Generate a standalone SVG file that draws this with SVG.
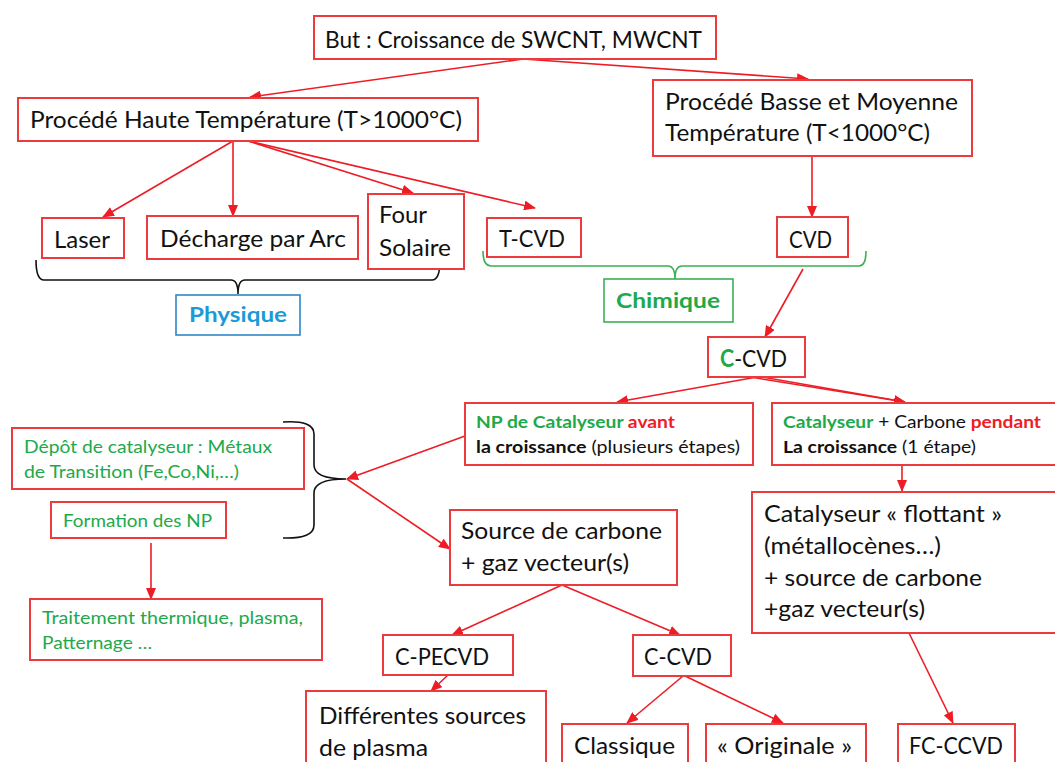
<svg xmlns="http://www.w3.org/2000/svg" width="1055" height="762" viewBox="0 0 1055 762">
<defs>
<marker id="ah" markerWidth="12" markerHeight="10" refX="11" refY="5" orient="auto" markerUnits="userSpaceOnUse">
<path d="M0,0 L12,5 L0,10 Z" fill="#EE1C25"/>
</marker>
<style>
.b{fill:#fff;stroke:#EC3B3E;stroke-width:2}
.t{font-family:Lato,"Liberation Sans",sans-serif;fill:#111}
.L{font-size:24px}
.S{font-size:17.5px}
.g{fill:#21A949}
.r{fill:#EE1C25}
.bo{font-weight:bold}
.c{stroke:#EE1C25;stroke-width:1.6;fill:none;marker-end:url(#ah)}
.br{fill:none;stroke:#111;stroke-width:1.6}
</style>
</defs>
<rect width="1055" height="762" fill="#fff"/>

<g id="connectors">
<line class="c" x1="523" y1="59" x2="250" y2="97"/>
<line class="c" x1="523" y1="59" x2="808" y2="79"/>
<line class="c" x1="233" y1="141" x2="103" y2="217"/>
<line class="c" x1="233" y1="141" x2="233" y2="216"/>
<line class="c" x1="248" y1="141" x2="413" y2="193"/>
<line class="c" x1="248" y1="141" x2="535" y2="208"/>
<line class="c" x1="812" y1="156" x2="812" y2="217"/>
<line class="c" x1="803" y1="269" x2="765" y2="337"/>
<line class="c" x1="757" y1="377" x2="617" y2="402"/>
<line class="c" x1="750" y1="377" x2="905" y2="402"/>
<line class="c" x1="762" y1="377" x2="905" y2="402"/>
<line class="c" x1="465" y1="436" x2="347" y2="479"/>
<line class="c" x1="347" y1="479" x2="450" y2="549"/>
<line class="c" x1="151" y1="543" x2="151" y2="599"/>
<line class="c" x1="902" y1="465" x2="902" y2="491"/>
<line class="c" x1="562" y1="585" x2="452" y2="635"/>
<line class="c" x1="562" y1="585" x2="680" y2="635"/>
<line class="c" x1="448" y1="675" x2="431" y2="691"/>
<line class="c" x1="683" y1="676" x2="627" y2="723"/>
<line class="c" x1="685" y1="676" x2="783" y2="723"/>
<line class="c" x1="909" y1="633" x2="953" y2="723"/>
</g>

<g id="braces">
<path class="br" d="M36,260 Q36,280 44,280 L231,280 Q238,280 238,294 Q238,280 245,280 L432,280 Q440,280 440,260"/>
<path d="M483,251 Q483,266 491,266 L668,266 Q675,266 675,279 Q675,266 682,266 L859,266 Q866,266 866,251" fill="none" stroke="#3CB054" stroke-width="1.6"/>
<path class="br" d="M283,422 Q314,420 314,434 L314,465 Q314,479 346,479 Q314,479 314,493 L314,525 Q314,539 283,538"/>
</g>

<g id="n-but"><rect class="b" x="314" y="16" width="402" height="43"/>
<text class="t L" x="325" y="48" textLength="377" lengthAdjust="spacingAndGlyphs">But : Croissance de SWCNT, MWCNT</text></g>

<g id="n-haute"><rect class="b" x="18" y="98" width="460" height="43"/>
<text class="t L" x="30" y="128" textLength="432" lengthAdjust="spacingAndGlyphs">Procédé Haute Température (T&gt;1000°C)</text></g>

<g id="n-basse"><rect class="b" x="653" y="80" width="319" height="76"/>
<text class="t L" x="665" y="110" textLength="293" lengthAdjust="spacingAndGlyphs">Procédé Basse et Moyenne</text>
<text class="t L" x="665" y="141" textLength="265" lengthAdjust="spacingAndGlyphs">Température (T&lt;1000°C)</text></g>

<g id="n-laser"><rect class="b" x="42" y="218" width="82" height="40"/>
<text class="t L" x="54" y="248" textLength="56" lengthAdjust="spacingAndGlyphs">Laser</text></g>

<g id="n-arc"><rect class="b" x="147" y="216" width="211" height="43"/>
<text class="t L" x="160" y="247" textLength="186" lengthAdjust="spacingAndGlyphs">Décharge par Arc</text></g>

<g id="n-four"><rect class="b" x="368" y="194" width="96" height="75"/>
<text class="t L" x="379" y="223" textLength="48" lengthAdjust="spacingAndGlyphs">Four</text>
<text class="t L" x="379" y="256" textLength="72" lengthAdjust="spacingAndGlyphs">Solaire</text></g>

<g id="n-tcvd"><rect class="b" x="487" y="218" width="94" height="39"/>
<text class="t L" x="499" y="247" textLength="66" lengthAdjust="spacingAndGlyphs">T-CVD</text></g>

<g id="n-cvd"><rect class="b" x="777" y="217" width="71" height="40"/>
<text class="t L" x="789" y="248" textLength="43" lengthAdjust="spacingAndGlyphs">CVD</text></g>

<g id="n-physique"><rect x="176" y="295" width="124" height="40" fill="#fff" stroke="#2E86C8" stroke-width="1.6"/>
<text class="t bo" x="238" y="322" text-anchor="middle" font-size="21" style="fill:#1C9AD6" textLength="98" lengthAdjust="spacingAndGlyphs">Physique</text></g>

<g id="n-chimique"><rect x="604" y="279" width="129" height="43" fill="#fff" stroke="#3CB054" stroke-width="1.6"/>
<text class="t bo g" x="668" y="308" text-anchor="middle" font-size="21" textLength="104" lengthAdjust="spacingAndGlyphs">Chimique</text></g>

<g id="n-ccvd"><rect class="b" x="708" y="337" width="97" height="40"/>
<text class="t L" x="720" y="367" textLength="67" lengthAdjust="spacingAndGlyphs"><tspan class="g bo">C</tspan>-CVD</text></g>

<g id="n-np"><rect class="b" x="465" y="403" width="288" height="62"/>
<text class="t S bo" x="476" y="428" textLength="199" lengthAdjust="spacingAndGlyphs"><tspan class="g">NP de Catalyseur </tspan><tspan class="r">avant</tspan></text>
<text class="t S" x="476" y="453" textLength="264" lengthAdjust="spacingAndGlyphs"><tspan class="bo">la croissance</tspan> (plusieurs étapes)</text></g>

<g id="n-cat"><rect class="b" x="772" y="403" width="290" height="62"/>
<text class="t S" x="783" y="428" textLength="258" lengthAdjust="spacingAndGlyphs"><tspan class="g bo">Catalyseur</tspan> + Carbone <tspan class="r bo">pendant</tspan></text>
<text class="t S" x="783" y="453" textLength="193" lengthAdjust="spacingAndGlyphs"><tspan class="bo">La croissance</tspan> (1 étape)</text></g>

<g id="n-depot"><rect class="b" x="12" y="428" width="292" height="61"/>
<text class="t S g" x="24" y="453" textLength="248" lengthAdjust="spacingAndGlyphs">Dépôt de catalyseur : Métaux</text>
<text class="t S g" x="24" y="478" textLength="215" lengthAdjust="spacingAndGlyphs">de Transition (Fe,Co,Ni,…)</text></g>

<g id="n-formation"><rect class="b" x="51" y="502" width="175" height="36"/>
<text class="t S g" x="63" y="527" textLength="149" lengthAdjust="spacingAndGlyphs">Formation des NP</text></g>

<g id="n-traitement"><rect class="b" x="30" y="599" width="292" height="61"/>
<text class="t S g" x="42" y="624" textLength="261" lengthAdjust="spacingAndGlyphs">Traitement thermique, plasma,</text>
<text class="t S g" x="42" y="649" textLength="110" lengthAdjust="spacingAndGlyphs">Patternage …</text></g>

<g id="n-source"><rect class="b" x="450" y="510" width="227" height="75"/>
<text class="t L" x="461" y="539" textLength="201" lengthAdjust="spacingAndGlyphs">Source de carbone</text>
<text class="t L" x="461" y="571" textLength="168" lengthAdjust="spacingAndGlyphs">+ gaz vecteur(s)</text></g>

<g id="n-flottant"><rect class="b" x="752" y="492" width="310" height="141"/>
<text class="t L" x="764" y="522" textLength="238" lengthAdjust="spacingAndGlyphs">Catalyseur « flottant »</text>
<text class="t L" x="764" y="554" textLength="177" lengthAdjust="spacingAndGlyphs">(métallocènes…)</text>
<text class="t L" x="764" y="586" textLength="218" lengthAdjust="spacingAndGlyphs">+ source de carbone</text>
<text class="t L" x="764" y="617" textLength="161" lengthAdjust="spacingAndGlyphs">+gaz vecteur(s)</text></g>

<g id="n-cpecvd"><rect class="b" x="383" y="635" width="130" height="40"/>
<text class="t L" x="395" y="665" textLength="94" lengthAdjust="spacingAndGlyphs">C-PECVD</text></g>

<g id="n-ccvd2"><rect class="b" x="633" y="635" width="98" height="41"/>
<text class="t L" x="644" y="665" textLength="68" lengthAdjust="spacingAndGlyphs">C-CVD</text></g>

<g id="n-plasma"><rect class="b" x="306" y="691" width="240" height="80"/>
<text class="t L" x="319" y="724" textLength="207" lengthAdjust="spacingAndGlyphs">Différentes sources</text>
<text class="t L" x="319" y="756" textLength="109" lengthAdjust="spacingAndGlyphs">de plasma</text></g>

<g id="n-classique"><rect class="b" x="562" y="724" width="126" height="47"/>
<text class="t L" x="574" y="754" textLength="101" lengthAdjust="spacingAndGlyphs">Classique</text></g>

<g id="n-originale"><rect class="b" x="706" y="724" width="160" height="47"/>
<text class="t L" x="717" y="754" textLength="135" lengthAdjust="spacingAndGlyphs">« Originale »</text></g>

<g id="n-fcccvd"><rect class="b" x="898" y="724" width="117" height="47"/>
<text class="t L" x="909" y="754" textLength="94" lengthAdjust="spacingAndGlyphs">FC-CCVD</text></g>
</svg>
